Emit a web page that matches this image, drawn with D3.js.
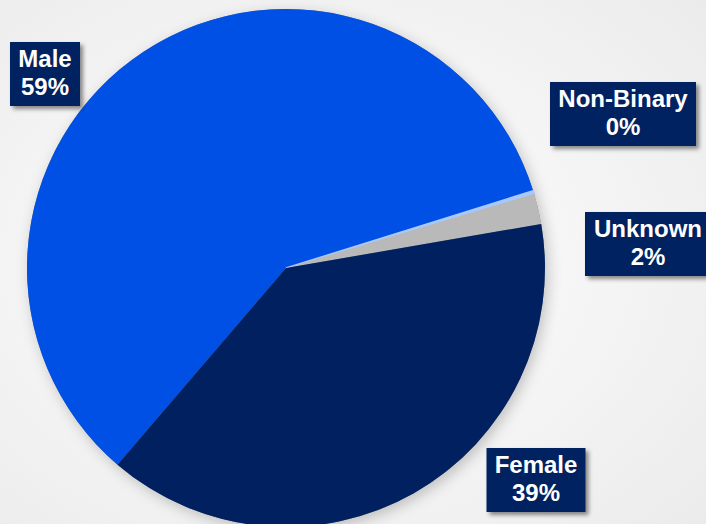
<!DOCTYPE html>
<html><head><meta charset="utf-8">
<script src="https://cdn.jsdelivr.net/npm/d3@7"></script>
<style>html,body{margin:0;padding:0;overflow:hidden;background:#f2f2f2}</style>
</head><body>
<script>
const categories = ["Male", "Non-Binary", "Unknown", "Female"];
const values = [58.9, 0.2, 1.9, 39.0];
const labels = ["59%", "0%", "2%", "39%"];
const colors = ["#0050e6", "#a9c8ff", "#b9b9b9", "#002060"];
// label box anchors (centers) in px
const labelPos = [[45, 74], [623, 114], [648, 244], [536, 480]];
const labelW = [70, 146, 126, 99];

const W = 706, H = 524;
const svg = d3.select("body").append("svg").attr("width", W).attr("height", H);
const defs = svg.append("defs");
const bg = defs.append("radialGradient").attr("id", "bg").attr("cx", "45%").attr("cy", "50%").attr("r", "75%");
bg.append("stop").attr("offset", "0%").attr("stop-color", "#ffffff");
bg.append("stop").attr("offset", "100%").attr("stop-color", "#ebebeb");
const sh = defs.append("filter").attr("id", "sh").attr("x", "-20%").attr("y", "-20%").attr("width", "140%").attr("height", "140%");
sh.append("feDropShadow").attr("dx", 3).attr("dy", 4).attr("stdDeviation", 7).attr("flood-color", "#000").attr("flood-opacity", 0.22);
const sh2 = defs.append("filter").attr("id", "sh2").attr("x", "-20%").attr("y", "-20%").attr("width", "140%").attr("height", "140%");
sh2.append("feDropShadow").attr("dx", 3).attr("dy", 3).attr("stdDeviation", 2).attr("flood-color", "#000").attr("flood-opacity", 0.45);

svg.append("rect").attr("width", W).attr("height", H).attr("fill", "url(#bg)");

const cx = 286, cy = 268, R = 259;
const startDeg = 220.6;
const pie = d3.pie().sort(null).value(d => d)
  .startAngle(startDeg * Math.PI / 180).endAngle((startDeg + 360) * Math.PI / 180);
const arcs = pie(values);
const arc = d3.arc().innerRadius(0).outerRadius(R);

const g = svg.append("g").attr("transform", `translate(${cx},${cy})`);
g.append("circle").attr("r", R).attr("fill", "#888").attr("filter", "url(#sh)");
g.selectAll("path.slice").data(arcs).join("path").attr("class", "slice")
  .attr("d", arc).attr("fill", (d, i) => colors[i])
  .attr("stroke", (d, i) => i === 1 ? colors[1] : "none").attr("stroke-width", 1.5);

const lg = svg.append("g");
categories.forEach((c, i) => {
  const [x, y] = labelPos[i];
  const w = labelW[i], h = 64;
  const b = lg.append("g").attr("transform", `translate(${x},${y})`);
  b.append("rect").attr("x", -w / 2).attr("y", -h / 2).attr("width", w).attr("height", h)
    .attr("fill", "#002060").attr("filter", "url(#sh2)");
  const t = b.append("text").attr("text-anchor", "middle")
    .attr("font-family", "Liberation Sans, Arial, sans-serif").attr("font-weight", "bold")
    .attr("font-size", 24).attr("fill", "#ffffff");
  t.append("tspan").attr("x", 0).attr("y", -7).text(c);
  t.append("tspan").attr("x", 0).attr("y", 21).text(labels[i]);
});
</script>
</body></html>
